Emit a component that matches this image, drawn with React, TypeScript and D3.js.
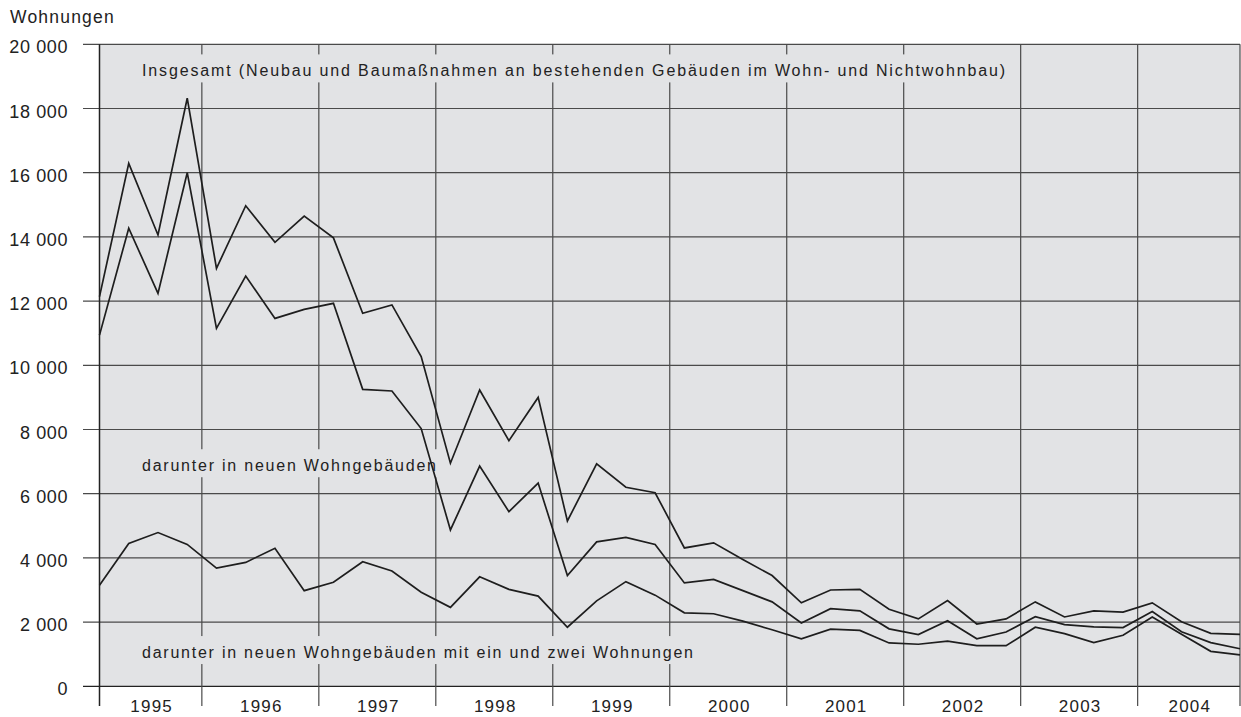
import React from 'react';
import * as d3 from 'd3';

// quarterly values 1995 Q1 .. 2004 Q4
const years = [1995, 1996, 1997, 1998, 1999, 2000, 2001, 2002, 2003, 2004];
const yTicks = [0, 2000, 4000, 6000, 8000, 10000, 12000, 14000, 16000, 18000, 20000];

const insgesamt = [
  12140, 16290, 14060, 18320, 13020, 14970, 13830, 14650, 13970, 11620,
  11880, 10270, 6950, 9230, 7650, 9000, 5150, 6930, 6200, 6030,
  4310, 4470, 3950, 3450, 2600, 3000, 3020, 2400, 2100, 2670,
  1940, 2100, 2630, 2160, 2350, 2310, 2600, 2010, 1650, 1620,
];
const wohngebaeude = [
  10940, 14270, 12240, 16000, 11150, 12780, 11460, 11740, 11930, 9250,
  9200, 8030, 4870, 6860, 5440, 6330, 3450, 4500, 4640, 4420,
  3220, 3330, 2980, 2630, 1970, 2420, 2350, 1790, 1610, 2040,
  1480, 1690, 2170, 1920, 1850, 1830, 2330, 1700, 1360, 1170,
];
const einZweiWhg = [
  3150, 4450, 4790, 4420, 3680, 3860, 4300, 2980, 3240, 3880,
  3590, 2930, 2460, 3410, 3020, 2810, 1840, 2660, 3260, 2840,
  2290, 2260, 2030, 1760, 1480, 1780, 1740, 1350, 1310, 1410,
  1265, 1265, 1840, 1640, 1360, 1590, 2160, 1620, 1090, 980,
];

const labels = [
  { text: 'Insgesamt (Neubau und Baumaßnahmen an bestehenden Gebäuden im Wohn- und Nichtwohnbau)', value: 19000, len: 863 },
  { text: 'darunter in neuen Wohngebäuden', value: 6700, len: 294 },
  { text: 'darunter in neuen Wohngebäuden mit ein und zwei Wohnungen', value: 880, len: 551 },
];

const W = 1241;
const H = 717;
const font = '"Liberation Sans", Arial, sans-serif';

export default function App() {
  const x = d3.scaleLinear().domain([0, insgesamt.length - 1]).range([99.5, 1240]);
  const y = d3.scaleLinear().domain([0, 20000]).range([686.3, 44.3]);

  const line = d3.line<number>()
    .x((_, i) => x(i))
    .y((d) => y(d));

  // year boundaries sit between Q4 and Q1
  const bounds = [0, ...years.slice(1).map((_, k) => 3.5 + 4 * k), insgesamt.length - 1];
  const fmt = (v: number) => (v >= 1000 ? `${Math.floor(v / 1000)} ${String(v % 1000).padStart(3, '0')}` : String(v));

  return (
    <svg width={W} height={H} style={{ position: 'absolute', left: 0, top: 0, background: '#fff' }}
      fontFamily={font} fill="#222">
      <rect x={x(0)} y={y(20000)} width={x(39) - x(0)} height={y(0) - y(20000)} fill="#e2e3e5" />

      {/* horizontal grid + y labels */}
      {yTicks.map((t) => (
        <g key={t}>
          <line x1={83} x2={x(39)} y1={y(t)} y2={y(t)} stroke={t === 0 ? '#222' : '#4a4a4a'} strokeWidth={1.2} />
          <text x={68} y={y(t) + 9} textAnchor="end" fontSize={18} letterSpacing={0.6}>{fmt(t)}</text>
        </g>
      ))}

      {/* vertical year lines with ticks */}
      {bounds.map((b, k) => (
        <line key={k} x1={x(b)} x2={x(b)} y1={y(20000)} y2={706}
          stroke={k === 0 ? '#222' : '#4a4a4a'} strokeWidth={k === 0 ? 1.5 : 1.2} />
      ))}

      {years.map((yr, k) => (
        <text key={yr} x={(x(bounds[k]) + x(bounds[k + 1])) / 2 + 1} y={712} textAnchor="middle"
          fontSize={17} letterSpacing={1.2}>{yr}</text>
      ))}

      <text x={10} y={22.5} fontSize={17.5} letterSpacing={1.2}>Wohnungen</text>

      {/* series labels with background boxes */}
      {labels.map((l) => {
        const base = y(l.value);
        return (
          <g key={l.text}>
            <rect x={136} y={base - 22} width={l.len + 12} height={28} fill="#e2e3e5" />
            <text x={142} y={base} fontSize={16} textLength={l.len} lengthAdjust="spacing">{l.text}</text>
          </g>
        );
      })}

      {[insgesamt, wohngebaeude, einZweiWhg].map((s, k) => (
        <path key={k} d={line(s) || ''} fill="none" stroke="#1e1e1e" strokeWidth={1.7} strokeLinejoin="miter" />
      ))}
    </svg>
  );
}
